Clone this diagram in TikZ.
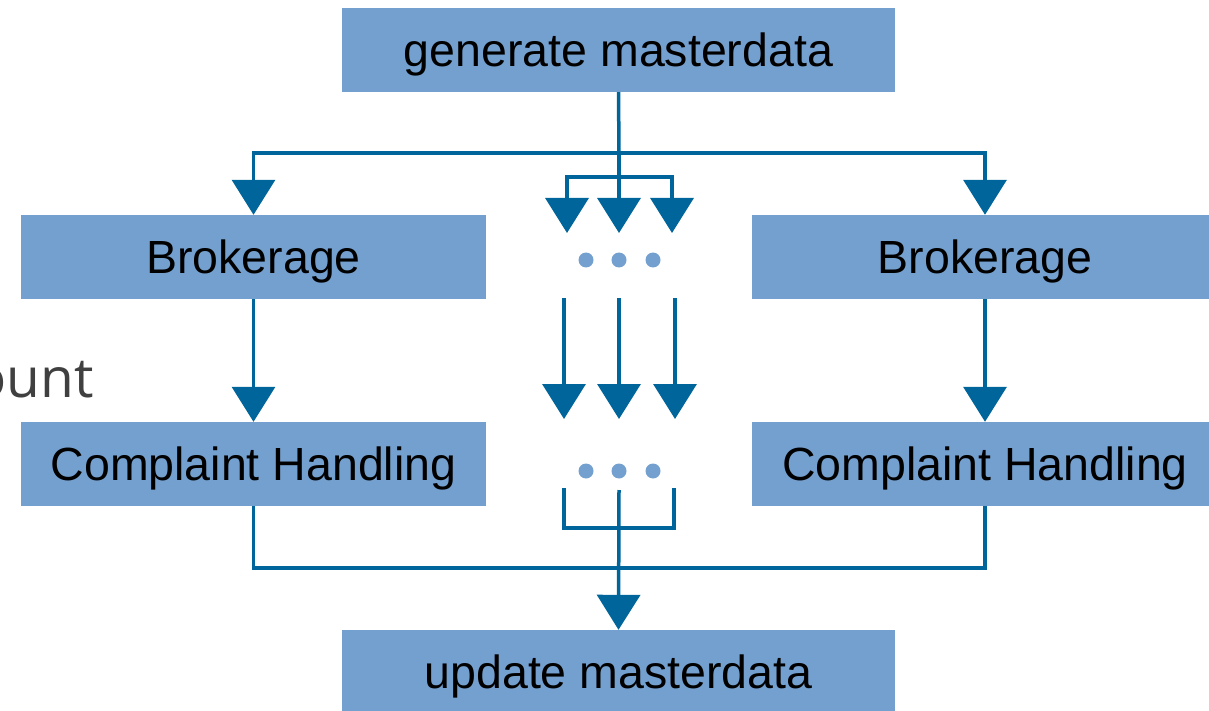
\documentclass[tikz,border=0pt]{standalone}
\usepackage{fontspec}
\setmainfont{Liberation Sans}
\newfontfamily\slidefont{Open Sans}
\usetikzlibrary{arrows.meta}

\definecolor{boxblue}{RGB}{116,160,207}
\definecolor{flowblue}{RGB}{0,101,155}
\definecolor{slidegrey}{RGB}{64,64,64}

\tikzset{
  stage/.style={fill=boxblue, draw=none, inner sep=0pt,
    minimum height=84pt, text=black, text depth=1pt,
    font=\fontsize{46.5}{50}\selectfont},
  flow/.style={draw=flowblue, line width=3.5pt, line join=miter},
  flowarrow/.style={flow, -{Triangle[width=43pt,length=35pt]}},
  dot/.style={circle, fill=boxblue, draw=none, minimum size=15pt, inner sep=0pt}
}

\begin{document}
\begin{tikzpicture}[x=1pt, y=-1pt]
  \useasboundingbox (0,0) rectangle (1209,711);
  \clip (0,0) rectangle (1209,711);

  % partly hidden word from the slide behind
  \node[anchor=base east, inner sep=0pt, text=slidegrey,
        font=\slidefont\fontsize{55}{60}\selectfont] (behind) at (94,397) {ount};

  % process stages
  \node[stage, minimum width=553pt] (gen) at (618.5,50) {generate masterdata};
  \node[stage, minimum width=465pt] (brL) at (253.5,257) {Brokerage};
  \node[stage, minimum width=466pt] (brR) at (985,257) {Brokerage};
  \node[stage, minimum width=465pt] (chL) at (253.5,464) {Complaint Handling};
  \node[stage, minimum width=466pt] (chR) at (985,464) {Complaint Handling};
  \node[stage, minimum width=553pt] (upd) at (618.5,672) {update masterdata};

  % ellipsis dots for further parallel instances
  \node[dot] (d1) at (586,260) {};
  \node[dot] (d2) at (619,260) {};
  \node[dot] (d3) at (653,260) {};
  \node[dot] (e1) at (586,471) {};
  \node[dot] (e2) at (619,471) {};
  \node[dot] (e3) at (653,471) {};

  % branching points and free ends
  \coordinate (split) at (619,153);
  \coordinate (fan) at (619,177);
  \coordinate (fa1) at (567,233);
  \coordinate (fa2) at (619,233);
  \coordinate (fa3) at (672,233);
  \coordinate (ls1) at (564,298);
  \coordinate (ls2) at (619,298);
  \coordinate (ls3) at (675,298);
  \coordinate (le1) at (564,419);
  \coordinate (le2) at (619,419);
  \coordinate (le3) at (675,419);
  \coordinate (jb1) at (564,488);
  \coordinate (jb2) at (619,490);
  \coordinate (jb3) at (674,488);
  \coordinate (jbar) at (619,528);
  \coordinate (join) at (619,568);

  % fork after generating master data
  \draw[flow] (gen.south) -- (split);
  \draw[flowarrow] (split) -| (brL.north);
  \draw[flowarrow] (split) -| (brR.north);
  \draw[flow] (split) -- (fan);
  \draw[flowarrow] (fan) -- (fa2);
  \draw[flowarrow] (fan) -| (fa1);
  \draw[flowarrow] (fan) -| (fa3);

  % per-instance flow
  \draw[flowarrow] (brL.south) -- (chL.north);
  \draw[flowarrow] (brR.south) -- (chR.north);
  \draw[flowarrow] (ls1) -- (le1);
  \draw[flowarrow] (ls2) -- (le2);
  \draw[flowarrow] (ls3) -- (le3);

  % join before updating master data
  \draw[flow] (jb1) |- (jbar -| jb3) -- (jb3);
  \draw[flow] (chL.south) |- (join) -| (chR.south);
  \draw[flowarrow] (jb2) -- (upd.north);
\end{tikzpicture}
\end{document}
